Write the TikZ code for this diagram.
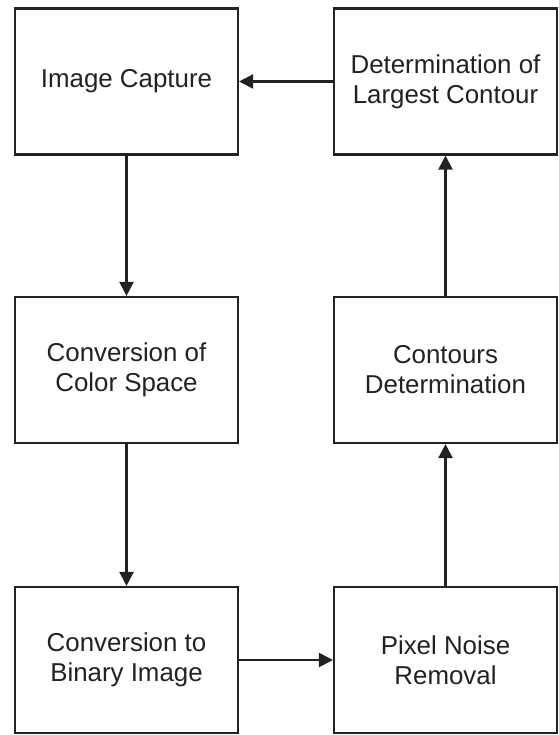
\documentclass[tikz,border=0pt]{standalone}
\usepackage{fontspec}
\setmainfont{Liberation Sans}
\usetikzlibrary{arrows.meta}
\definecolor{ink}{HTML}{222222}
\begin{document}
\begin{tikzpicture}[x=0.75pt,y=-0.75pt,
  blk/.style={draw=ink,line width=1.6pt,minimum width=223*0.75pt,minimum height=146*0.75pt,
    align=center,text=ink,font=\fontsize{19.4}{22.5}\selectfont,inner sep=0pt},
  conn/.style={draw=ink,line width=1.6pt,-{Triangle[length=10.5pt,width=10.5pt]}}]
\useasboundingbox (0,0) rectangle (558,735);
\fill[white] (0,0) rectangle (558,735);
\node[blk] (cap) at (126.5,81.5) {Image Capture};
\node[blk] (col) at (126.5,370) {Conversion of\\Color Space};
\node[blk] (bin) at (126.5,660) {Conversion to\\Binary Image};
\node[blk] (pix) at (445.5,660) {Pixel Noise\\Removal};
\node[blk] (cnt) at (445.5,370) {Contours\\Determination};
\node[blk] (lrg) at (445.5,81.5) {Determination of\\Largest Contour};
\draw[conn] (cap) -- (col);
\draw[conn] (col) -- (bin);
\draw[conn] (bin) -- (pix);
\draw[conn] (pix) -- (cnt);
\draw[conn] (cnt) -- (lrg);
\draw[conn] (lrg) -- (cap);
\end{tikzpicture}
\end{document}
